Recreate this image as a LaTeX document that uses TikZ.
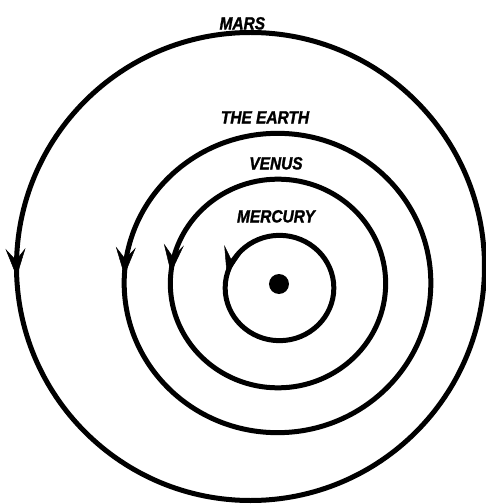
\documentclass[tikz,border=0pt]{standalone}
\usepackage{fontspec}
\newfontfamily\orbitfont{Liberation Sans Bold Italic}[FakeStretch=0.88, FakeBold=1.5]
\usetikzlibrary{arrows.meta, decorations.markings}

\begin{document}
\begin{tikzpicture}[
  planet/.style={inner sep=0pt, font=\orbitfont\fontsize{15}{18}\selectfont},
  sun/.style={circle, fill=black, minimum size=6mm, inner sep=0pt},
  orbit/.style={line width=1.5mm, postaction={decorate},
    decoration={markings, mark=at position #1 with {\arrow{Stealth[length=8.5mm, width=6mm, inset=3.5mm, line width=0.4pt]}}}}
]
  \useasboundingbox (-8.37,-6.6) rectangle (6.21,8.52);

  % the Sun
  \node[sun] (sun) at (0,0) {};

  % orbits, counter-clockwise
  \draw[orbit=0.461] (0.015,-0.12) ellipse [x radius=1.63, y radius=1.58];
  \draw[orbit=0.484] (-0.03,0.015) ellipse [x radius=3.23, y radius=3.13];
  \draw[orbit=0.492] (-0.045,0.03) ellipse [x radius=4.6, y radius=4.49];
  \draw[orbit=0.507] (-0.855,0.525) circle [radius=7.02];

  % names
  \node[planet] (mercury) at (-0.09,2.03) {MERCURY};
  \node[planet] (venus) at (-0.09,3.62) {VENUS};
  \node[planet] (earth) at (-0.42,5.0) {THE EARTH};
  \node[planet] (mars) at (-1.1,7.82) {MARS};
\end{tikzpicture}
\end{document}
